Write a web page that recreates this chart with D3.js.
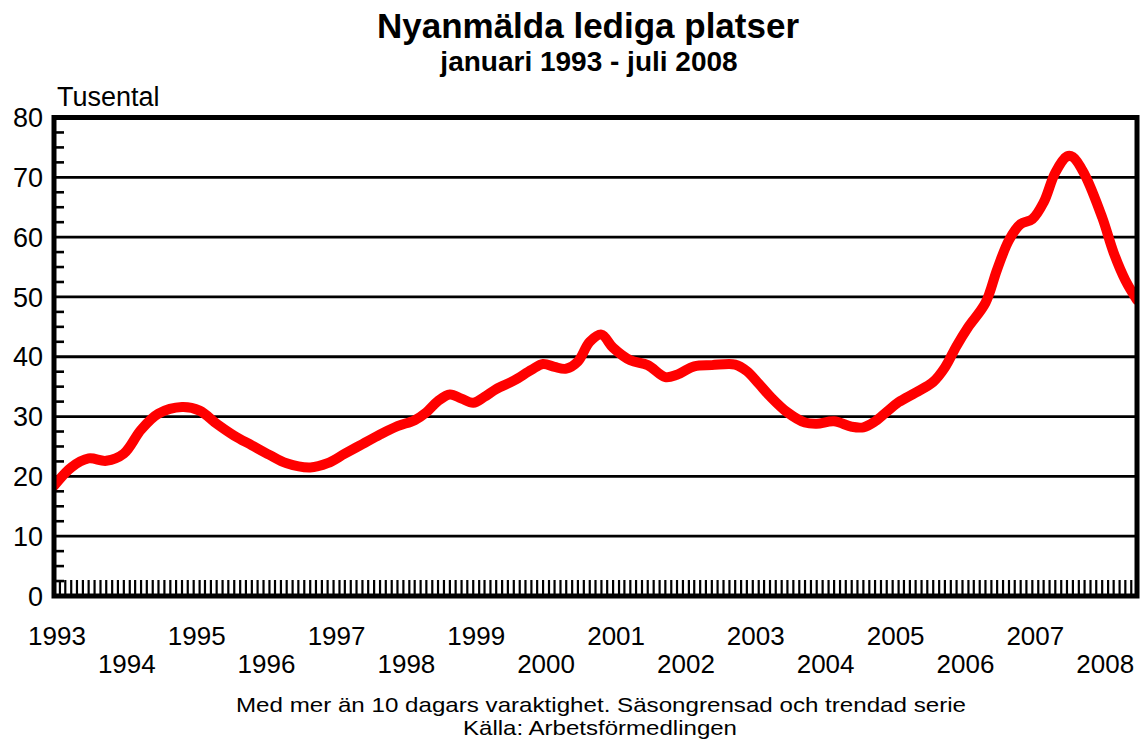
<!DOCTYPE html>
<html>
<head>
<meta charset="utf-8">
<script src="https://cdn.jsdelivr.net/npm/d3@7"></script>
<style>
  body { margin: 0; background: #fff; }
  text { font-family: "Liberation Sans", Arial, sans-serif; fill: #000; }
</style>
</head>
<body>
<svg width="1143" height="745"></svg>
<script>
// months (YYYY-MM) and values, thousands of new vacancies
var months = ["1993-01","1993-04","1993-07","1993-10","1994-01","1994-04","1994-07","1994-11",
  "1995-02","1995-05","1995-08","1995-11","1996-02","1996-05","1996-09","1996-12",
  "1997-03","1997-06","1997-09","1997-12","1998-03","1998-05","1998-07","1998-09","1998-11",
  "1999-01","1999-03","1999-05","1999-08","1999-11","2000-01","2000-03","2000-05","2000-07",
  "2000-09","2000-11","2001-01","2001-04","2001-07","2001-10","2001-12","2002-03","2002-06",
  "2002-10","2002-12","2003-02","2003-04","2003-07","2003-10","2003-12","2004-03","2004-06",
  "2004-08","2004-10","2004-12","2005-02","2005-05","2005-08","2005-10","2005-12","2006-02",
  "2006-05","2006-07","2006-09","2006-11","2007-01","2007-03","2007-05","2007-07","2007-08",
  "2007-10","2008-01","2008-03","2008-05","2008-07"];
var values = [18.4,21.5,23.0,22.6,23.8,27.8,30.5,31.6,
  31.0,28.8,26.8,25.2,23.6,22.2,21.5,22.2,
  23.8,25.4,27.0,28.4,29.4,30.7,32.6,33.7,33.0,
  32.3,33.3,34.6,36.0,37.8,38.8,38.3,38.0,39.2,
  42.5,43.7,41.5,39.4,38.6,36.6,37.0,38.4,38.6,
  38.7,37.6,35.5,33.4,30.7,29.0,28.8,29.2,28.3,
  28.2,29.2,30.8,32.4,34.0,35.8,38.2,41.8,45.0,
  49.0,54.6,59.5,62.2,63.0,65.8,70.8,73.5,73.4,
  70.5,63.3,57.4,52.8,49.5];
var years = d3.range(1993, 2009);
var yTicks = [0, 10, 20, 30, 40, 50, 60, 70, 80];

var parse = d3.timeParse("%Y-%m");
var data = months.map(function(m, i) { return { date: parse(m), value: values[i] }; });

var svg = d3.select("svg");
var pLeft = 54, pRight = 1137, pTop = 117.5, pBottom = 596;

var x = d3.scaleTime().domain([new Date(1993, 0, 1), new Date(2008, 6, 1)]).range([pLeft, pRight]);
var y = d3.scaleLinear().domain([0, 80]).range([pBottom, pTop]);

// titles
svg.append("text").attr("x", 588).attr("y", 38).attr("text-anchor", "middle")
  .style("font-weight", "bold").style("font-size", "35px").text("Nyanmälda lediga platser");
svg.append("text").attr("x", 589).attr("y", 71).attr("text-anchor", "middle")
  .style("font-weight", "bold").style("font-size", "28px").text("januari 1993 - juli 2008");
svg.append("text").attr("x", 57).attr("y", 106).style("font-size", "27px").text("Tusental");

// gridlines
svg.append("g").selectAll("line").data(yTicks.slice(1, -1)).enter().append("line")
  .attr("x1", pLeft).attr("x2", pRight)
  .attr("y1", function(d) { return y(d); }).attr("y2", function(d) { return y(d); })
  .attr("stroke", "#000").attr("stroke-width", 2.8);

// minor y ticks every 2.5
var minorY = d3.range(2.5, 80, 2.5).filter(function(d) { return d % 10 !== 0; });
svg.append("g").selectAll("line").data(minorY).enter().append("line")
  .attr("x1", pLeft).attr("x2", pLeft + 10)
  .attr("y1", function(d) { return y(d); }).attr("y2", function(d) { return y(d); })
  .attr("stroke", "#000").attr("stroke-width", 2.6);

// monthly ticks along bottom
var monthTicks = d3.timeMonth.range(new Date(1993, 1, 1), new Date(2008, 6, 1));
svg.append("g").selectAll("line").data(monthTicks).enter().append("line")
  .attr("x1", function(d) { return x(d); }).attr("x2", function(d) { return x(d); })
  .attr("y1", pBottom).attr("y2", pBottom - 16)
  .attr("stroke", "#000").attr("stroke-width", 2.2);

// y labels
svg.append("g").selectAll("text").data(yTicks).enter().append("text")
  .attr("x", 43).attr("y", function(d) { return y(d); }).attr("dy", "0.36em")
  .attr("text-anchor", "end").style("font-size", "27px")
  .text(function(d) { return d; });

// x labels, odd years on first row, even years on second
svg.append("g").selectAll("text").data(years).enter().append("text")
  .attr("x", function(d) { return x(new Date(d, 0, 1)) + 3; })
  .attr("y", function(d) { return d % 2 ? 645 : 673; })
  .attr("text-anchor", "middle").style("font-size", "26px")
  .text(function(d) { return d; });

// the series
svg.append("clipPath").attr("id", "clip").append("rect")
  .attr("x", pLeft).attr("y", pTop).attr("width", pRight - pLeft).attr("height", pBottom - pTop);

var line = d3.line()
  .x(function(d) { return x(d.date); })
  .y(function(d) { return y(d.value); })
  .curve(d3.curveCatmullRom.alpha(0.5));

svg.append("path").datum(data)
  .attr("clip-path", "url(#clip)")
  .attr("d", line)
  .attr("fill", "none").attr("stroke", "#ff0000")
  .attr("stroke-width", 10).attr("stroke-linejoin", "round").attr("stroke-linecap", "round");

// frame
svg.append("rect").attr("x", pLeft).attr("y", pTop)
  .attr("width", pRight - pLeft).attr("height", pBottom - pTop)
  .attr("fill", "none").attr("stroke", "#000").attr("stroke-width", 5);

// footnotes
svg.append("text").attr("x", 601).attr("y", 712).attr("text-anchor", "middle")
  .attr("textLength", 730).attr("lengthAdjust", "spacingAndGlyphs")
  .style("font-size", "21px").text("Med mer än 10 dagars varaktighet. Säsongrensad och trendad serie");
svg.append("text").attr("x", 600).attr("y", 735).attr("text-anchor", "middle")
  .attr("textLength", 274).attr("lengthAdjust", "spacingAndGlyphs")
  .style("font-size", "21px").text("Källa: Arbetsförmedlingen");
</script>
</body>
</html>
